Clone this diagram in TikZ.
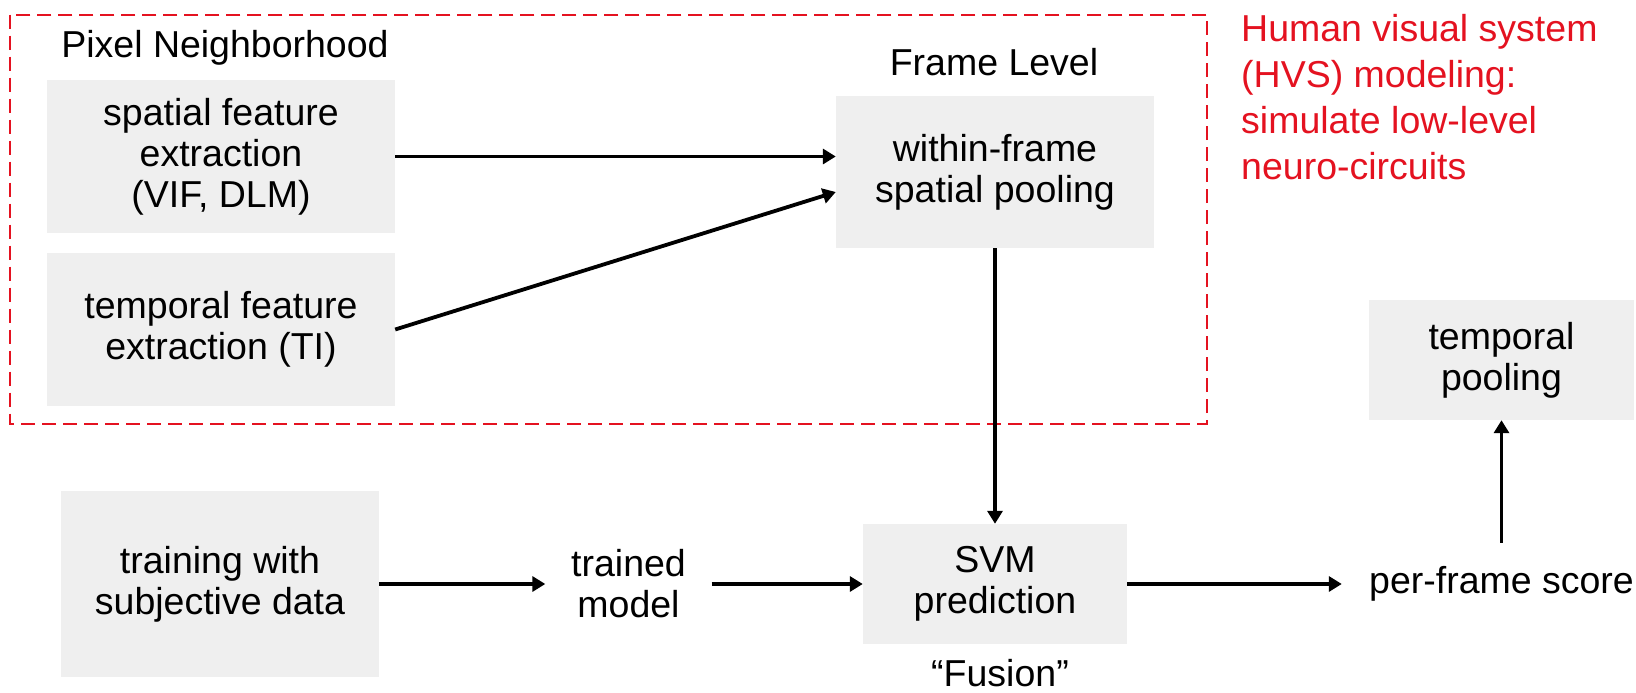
\documentclass[tikz,border=0pt]{standalone}
\usepackage{fontspec}
\setmainfont{Liberation Sans}
\usetikzlibrary{arrows.meta}
\definecolor{boxgray}{RGB}{239,239,239}
\definecolor{hvsred}{RGB}{228,18,32}
\tikzset{
  basefont/.style={font=\fontsize{37.5pt}{41pt}\selectfont},
  procbox/.style={basefont, fill=boxgray, align=center, inner sep=0pt},
  plaintext/.style={basefont, align=center, inner sep=0pt},
  arr/.style={line width=3.8pt, -{Triangle[length=13pt,width=15pt]}},
  hvsbox/.style={draw=hvsred, line width=2pt, dash pattern=on 14pt off 7pt},
}
\begin{document}
\begin{tikzpicture}[x=1pt,y=-1pt]
\useasboundingbox (0,0) rectangle (1636,693);
% HVS dashed frame
\draw[hvsbox] (10.4,14.6) rectangle (1207,424);
% headings
\node[plaintext, anchor=base] (pixhead) at (225,58) {Pixel Neighborhood};
\node[plaintext, anchor=base] (framehead) at (994,76) {Frame Level};
% boxes
\node[procbox, minimum width=348pt, minimum height=153pt] (spatial) at (221,156.5) {spatial feature\\extraction\\(VIF, DLM)};
\node[procbox, minimum width=348pt, minimum height=153pt] (temporal) at (221,329.5) {temporal feature\\extraction (TI)};
\node[procbox, minimum width=318pt, minimum height=152pt] (within) at (995,172) {within-frame\\spatial pooling};
\node[procbox, minimum width=264pt, minimum height=120pt] (svm) at (995,584) {SVM\\prediction};
\node[procbox, minimum width=265pt, minimum height=120pt] (tpool) at (1501.5,360) {temporal\\pooling};
\node[procbox, minimum width=318pt, minimum height=186pt] (training) at (220,584) {training with\\subjective data};
% plain texts
\node[plaintext, minimum width=166pt] (trained) at (628.5,584) {trained\\model};
\node[plaintext, minimum width=319pt, minimum height=82pt] (score) at (1501.5,584) {per-frame score};
\node[plaintext, anchor=base] (fusion) at (1000,686) {“Fusion”};
\node[font=\fontsize{37.5pt}{46pt}\selectfont, text=hvsred, align=left, inner sep=0pt, anchor=north west] (hvs) at (1241,14) {Human visual system\\(HVS) modeling:\\simulate low-level\\neuro-circuits};
% connectors
\draw[arr] (spatial.east) -- (spatial.east -| within.west);
\draw[arr] (temporal.east) -- ([yshift=-20pt]within.west);
\draw[arr] (within.south) -- (svm.north);
\draw[arr] (training.east) -- (trained.west);
\draw[arr] (trained.east) -- (svm.west);
\draw[arr] (svm.east) -- (score.west);
\draw[arr] (score.north) -- (tpool.south);
\end{tikzpicture}
\end{document}
